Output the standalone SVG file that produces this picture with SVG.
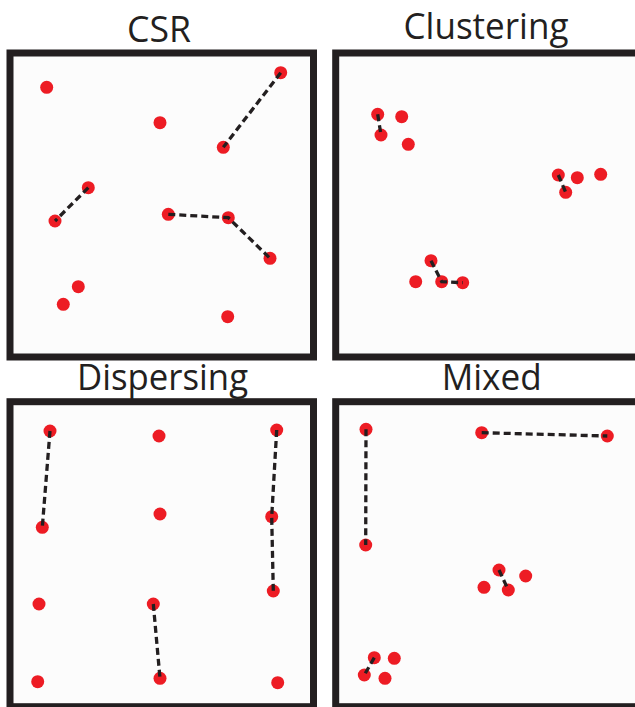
<svg xmlns="http://www.w3.org/2000/svg" width="635" height="707" viewBox="0 0 635 707">
  <style>
    .frame { fill: #fcfcfc; stroke: #231f20; stroke-width: 7; }
    .title { font-family: "Open Sans", "Liberation Sans", sans-serif; font-size: 36px; fill: #231f20; text-anchor: middle; }
    .dot { fill: #ed1c24; }
    .link { fill: none; stroke: #231f20; stroke-width: 3.3; stroke-dasharray: 7 4; }
  </style>
  <rect x="0" y="0" width="635" height="707" fill="#ffffff"/>

  <g id="panel-csr">
    <rect class="frame" x="10" y="53" width="303.5" height="304"/>
    <text class="title" x="159" y="41.5" textLength="64" lengthAdjust="spacingAndGlyphs">CSR</text>
  </g>
  <g id="panel-clustering">
    <rect class="frame" x="335.7" y="53" width="330" height="304"/>
    <text class="title" x="486" y="38.5" textLength="165" lengthAdjust="spacingAndGlyphs">Clustering</text>
  </g>
  <g id="panel-dispersing">
    <rect class="frame" x="10" y="401.7" width="303.5" height="305"/>
    <text class="title" x="162.5" y="390" textLength="171" lengthAdjust="spacingAndGlyphs">Dispersing</text>
  </g>
  <g id="panel-mixed">
    <rect class="frame" x="335.7" y="401.7" width="330" height="305"/>
    <text class="title" x="491.7" y="390" textLength="100" lengthAdjust="spacingAndGlyphs">Mixed</text>
  </g>

  <g id="dots-csr">
    <circle id="csr-1" class="dot" cx="46.7" cy="87.3" r="6.5"/>
    <circle id="csr-2" class="dot" cx="160" cy="122.7" r="6.5"/>
    <circle id="csr-3" class="dot" cx="280.7" cy="72.7" r="6.5"/>
    <circle id="csr-4" class="dot" cx="223.3" cy="147.3" r="6.5"/>
    <circle id="csr-5" class="dot" cx="88.3" cy="187.7" r="6.5"/>
    <circle id="csr-6" class="dot" cx="55" cy="221" r="6.5"/>
    <circle id="csr-7" class="dot" cx="168.3" cy="214.3" r="6.5"/>
    <circle id="csr-8" class="dot" cx="228.3" cy="217.7" r="6.5"/>
    <circle id="csr-9" class="dot" cx="270" cy="258.3" r="6.5"/>
    <circle id="csr-10" class="dot" cx="78.3" cy="286.7" r="6.5"/>
    <circle id="csr-11" class="dot" cx="63.3" cy="304.3" r="6.5"/>
    <circle id="csr-12" class="dot" cx="227.7" cy="316.7" r="6.5"/>
  </g>
  <g id="dots-clustering">
    <circle id="clu-1" class="dot" cx="377.7" cy="114.3" r="6.5"/>
    <circle id="clu-2" class="dot" cx="401.7" cy="116.7" r="6.5"/>
    <circle id="clu-3" class="dot" cx="381" cy="135" r="6.5"/>
    <circle id="clu-4" class="dot" cx="408.3" cy="144.3" r="6.5"/>
    <circle id="clu-5" class="dot" cx="558.3" cy="175" r="6.5"/>
    <circle id="clu-6" class="dot" cx="577.3" cy="177.7" r="6.5"/>
    <circle id="clu-7" class="dot" cx="600.7" cy="174.3" r="6.5"/>
    <circle id="clu-8" class="dot" cx="565.7" cy="192.3" r="6.5"/>
    <circle id="clu-9" class="dot" cx="431" cy="260.7" r="6.5"/>
    <circle id="clu-10" class="dot" cx="415.7" cy="281.7" r="6.5"/>
    <circle id="clu-11" class="dot" cx="441.7" cy="281.7" r="6.5"/>
    <circle id="clu-12" class="dot" cx="462.7" cy="282.7" r="6.5"/>
  </g>
  <g id="dots-dispersing">
    <circle id="dis-1" class="dot" cx="50" cy="431" r="6.5"/>
    <circle id="dis-2" class="dot" cx="159" cy="436" r="6.5"/>
    <circle id="dis-3" class="dot" cx="276.7" cy="430" r="6.5"/>
    <circle id="dis-4" class="dot" cx="42.3" cy="527.3" r="6.5"/>
    <circle id="dis-5" class="dot" cx="160" cy="514" r="6.5"/>
    <circle id="dis-6" class="dot" cx="271.7" cy="516.7" r="6.5"/>
    <circle id="dis-7" class="dot" cx="273.3" cy="591" r="6.5"/>
    <circle id="dis-8" class="dot" cx="39" cy="604" r="6.5"/>
    <circle id="dis-9" class="dot" cx="153.3" cy="604" r="6.5"/>
    <circle id="dis-10" class="dot" cx="37.7" cy="681.7" r="6.5"/>
    <circle id="dis-11" class="dot" cx="160" cy="678.3" r="6.5"/>
    <circle id="dis-12" class="dot" cx="277.7" cy="682.7" r="6.5"/>
  </g>
  <g id="dots-mixed">
    <circle id="mix-1" class="dot" cx="366" cy="429.3" r="6.5"/>
    <circle id="mix-2" class="dot" cx="481.7" cy="432.7" r="6.5"/>
    <circle id="mix-3" class="dot" cx="607.3" cy="436" r="6.5"/>
    <circle id="mix-4" class="dot" cx="365.7" cy="545" r="6.5"/>
    <circle id="mix-5" class="dot" cx="499" cy="570" r="6.5"/>
    <circle id="mix-6" class="dot" cx="525.7" cy="576" r="6.5"/>
    <circle id="mix-7" class="dot" cx="484" cy="587.3" r="6.5"/>
    <circle id="mix-8" class="dot" cx="508.3" cy="590" r="6.5"/>
    <circle id="mix-9" class="dot" cx="374.3" cy="657.7" r="6.5"/>
    <circle id="mix-10" class="dot" cx="394.3" cy="658.3" r="6.5"/>
    <circle id="mix-11" class="dot" cx="364.3" cy="675" r="6.5"/>
    <circle id="mix-12" class="dot" cx="385" cy="678.3" r="6.5"/>
  </g>

  <g id="connectors">
    <polyline class="link" points="280.7,72.7 223.3,147.3"/>
    <polyline class="link" points="88.3,187.7 55,221"/>
    <polyline class="link" points="168.3,214.3 228.3,217.7 270,258.3"/>
    <polyline class="link" points="377.7,114.3 381,135"/>
    <polyline class="link" points="558.3,175 565.7,192.3"/>
    <polyline class="link" points="431,260.7 441.7,281.7 462.7,282.7"/>
    <polyline class="link" points="50,431 42.3,527.3"/>
    <polyline class="link" points="276.7,430 271.7,516.7 273.3,591"/>
    <polyline class="link" points="153.3,604 160,678.3"/>
    <polyline class="link" points="366,429.3 365.7,545"/>
    <polyline class="link" points="481.7,432.7 607.3,436"/>
    <polyline class="link" points="499,570 508.3,590"/>
    <polyline class="link" points="374.3,657.7 364.3,675"/>
  </g>
</svg>
